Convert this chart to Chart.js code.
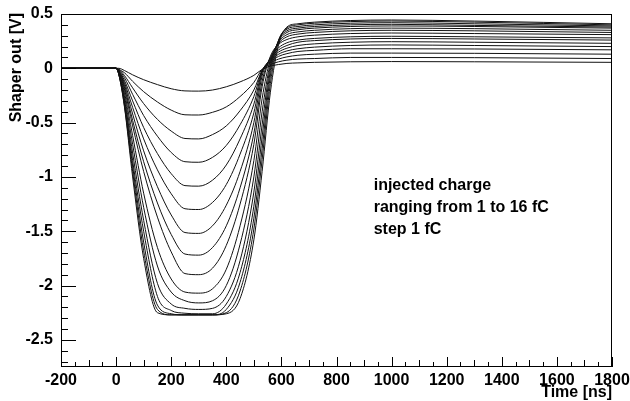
<!DOCTYPE html>
<html>
<head>
<meta charset="utf-8">
<script src="https://cdn.jsdelivr.net/npm/chart.js@4.4.0/dist/chart.umd.min.js"></script>
<style>
  html, body { margin: 0; padding: 0; background: #fff; }
  #wrap { width: 630px; height: 401px; }
</style>
</head>
<body>
<div id="wrap"><canvas id="c" width="630" height="401"></canvas></div>
<script>
// time samples [ns] shared by every curve
const times = [-200, 0, 10, 30, 60, 100, 150, 200, 250, 300, 350, 400, 450, 500, 530, 560, 590, 620, 660, 720, 850, 1000, 1300, 1800];

// shaper output [V] for injected charge 1..16 fC
const fC1  = [0, 0, 0, -0.02, -0.06, -0.105, -0.15, -0.188, -0.208, -0.21, -0.2, -0.17, -0.125, -0.065, -0.01, 0.02, 0.035, 0.045, 0.05, 0.055, 0.06, 0.062, 0.06, 0.055];
const fC2  = [0, 0, -0.01, -0.04, -0.12, -0.215, -0.31, -0.385, -0.428, -0.43, -0.405, -0.355, -0.26, -0.13, -0.01, 0.035, 0.06, 0.075, 0.085, 0.09, 0.1, 0.1, 0.098, 0.09];
const fC3  = [0, 0, -0.01, -0.065, -0.18, -0.325, -0.47, -0.578, -0.646, -0.65, -0.61, -0.53, -0.39, -0.2, -0.02, 0.05, 0.085, 0.105, 0.12, 0.13, 0.14, 0.14, 0.138, 0.13];
const fC4  = [0, 0, -0.015, -0.085, -0.24, -0.435, -0.625, -0.775, -0.86, -0.865, -0.82, -0.71, -0.52, -0.26, -0.02, 0.06, 0.11, 0.135, 0.155, 0.165, 0.18, 0.18, 0.178, 0.17];
const fC5  = [0, 0, -0.02, -0.11, -0.3, -0.545, -0.785, -0.97, -1.08, -1.085, -1.03, -0.89, -0.65, -0.33, -0.03, 0.07, 0.13, 0.16, 0.18, 0.195, 0.21, 0.215, 0.21, 0.2];
const fC6  = [0, 0, -0.025, -0.13, -0.36, -0.65, -0.935, -1.155, -1.293, -1.3, -1.235, -1.07, -0.79, -0.41, -0.04, 0.08, 0.15, 0.185, 0.21, 0.225, 0.24, 0.245, 0.24, 0.23];
const fC7  = [0, 0, -0.03, -0.15, -0.42, -0.76, -1.09, -1.35, -1.512, -1.52, -1.45, -1.26, -0.95, -0.5, -0.07, 0.09, 0.17, 0.21, 0.24, 0.255, 0.27, 0.275, 0.27, 0.26];
const fC8  = [0, 0, -0.03, -0.17, -0.48, -0.86, -1.24, -1.53, -1.71, -1.72, -1.65, -1.45, -1.1, -0.6, -0.12, 0.1, 0.19, 0.235, 0.26, 0.275, 0.29, 0.295, 0.29, 0.28];
const fC9  = [0, 0, -0.035, -0.19, -0.53, -0.95, -1.37, -1.69, -1.89, -1.9, -1.84, -1.63, -1.25, -0.7, -0.17, 0.11, 0.22, 0.265, 0.29, 0.305, 0.32, 0.325, 0.32, 0.31];
const fC10 = [0, 0, -0.04, -0.22, -0.62, -1.15, -1.65, -1.94, -2.06, -2.07, -2.03, -1.85, -1.45, -0.85, -0.28, 0.08, 0.23, 0.29, 0.315, 0.33, 0.345, 0.35, 0.345, 0.33];
const fC11 = [0, 0, -0.045, -0.25, -0.7, -1.28, -1.82, -2.06, -2.14, -2.16, -2.14, -2.0, -1.62, -1.0, -0.4, 0.05, 0.24, 0.31, 0.335, 0.35, 0.365, 0.37, 0.365, 0.35];
const fC12 = [0, 0, -0.05, -0.28, -0.78, -1.4, -1.98, -2.17, -2.21, -2.22, -2.21, -2.1, -1.77, -1.14, -0.52, 0.02, 0.25, 0.33, 0.355, 0.37, 0.385, 0.39, 0.385, 0.37];
const fC13 = [0, 0, -0.05, -0.3, -0.85, -1.5, -2.1, -2.23, -2.255, -2.26, -2.26, -2.17, -1.88, -1.27, -0.63, -0.02, 0.26, 0.345, 0.37, 0.385, 0.4, 0.405, 0.395, 0.38];
const fC14 = [0, 0, -0.055, -0.32, -0.9, -1.6, -2.18, -2.26, -2.27, -2.27, -2.27, -2.22, -1.97, -1.38, -0.74, -0.07, 0.26, 0.36, 0.385, 0.4, 0.415, 0.42, 0.41, 0.39];
const fC15 = [0, 0, -0.06, -0.34, -0.95, -1.68, -2.22, -2.27, -2.27, -2.27, -2.27, -2.25, -2.05, -1.48, -0.84, -0.14, 0.25, 0.37, 0.4, 0.415, 0.43, 0.435, 0.425, 0.4];
const fC16 = [0, 0, -0.06, -0.35, -1.0, -1.75, -2.25, -2.27, -2.27, -2.27, -2.27, -2.26, -2.12, -1.58, -0.95, -0.22, 0.22, 0.38, 0.41, 0.425, 0.44, 0.445, 0.435, 0.41];

const curves = [fC1, fC2, fC3, fC4, fC5, fC6, fC7, fC8, fC9, fC10, fC11, fC12, fC13, fC14, fC15, fC16];

// tick labels
const xTicks = [-200, 0, 200, 400, 600, 800, 1000, 1200, 1400, 1600, 1800];
const yTicks = [-2.5, -2, -1.5, -1, -0.5, 0, 0.5];

const notes = ['injected charge', 'ranging from 1 to 16 fC', 'step 1 fC'];

const FONT = 'Liberation Sans, Arial, Helvetica, sans-serif';

const rootFrame = {
  id: 'rootFrame',
  afterDraw(chart) {
    const {ctx, chartArea: a, scales} = chart;
    ctx.save();
    ctx.strokeStyle = '#000';
    ctx.lineWidth = 1;
    ctx.strokeRect(a.left + 0.5, a.top + 0.5, a.right - a.left - 1, a.bottom - a.top - 1);

    // inward ticks, ROOT style
    ctx.beginPath();
    for (let i = -27; i <= 5; i++) {
      const y = Math.round(scales.y.getPixelForValue(i / 10)) + 0.5;
      const len = i % 5 === 0 ? 15 : 7;
      ctx.moveTo(a.left, y); ctx.lineTo(a.left + len, y);
    }
    for (let t = -200; t <= 1800; t += 50) {
      const x = Math.round(scales.x.getPixelForValue(t)) + 0.5;
      const len = t % 200 === 0 ? 10 : (t % 100 === 0 ? 7 : 5);
      ctx.moveTo(x, a.bottom); ctx.lineTo(x, a.bottom - len);
    }
    ctx.stroke();

    ctx.fillStyle = '#000';
    ctx.font = 'bold 16px ' + FONT;

    // axis titles
    ctx.save();
    ctx.translate(17, a.top - 1);
    ctx.rotate(-Math.PI / 2);
    ctx.textAlign = 'right';
    ctx.textBaseline = 'middle';
    ctx.fillText('Shaper out [V]', 0, 0);
    ctx.restore();

    ctx.textAlign = 'right';
    ctx.textBaseline = 'alphabetic';
    ctx.fillText('Time [ns]', a.right, 397);

    // annotation
    ctx.textAlign = 'left';
    const nx = scales.x.getPixelForValue(935);
    notes.forEach((s, i) => ctx.fillText(s, nx, 190 + i * 22));
    ctx.restore();
  }
};

new Chart(document.getElementById('c'), {
  type: 'line',
  data: {
    datasets: curves.map((ys, i) => ({
      label: (i + 1) + ' fC',
      data: times.map((t, j) => ({x: t, y: ys[j]})),
      borderColor: '#111',
      borderWidth: 1,
      pointRadius: 0,
      fill: false,
      cubicInterpolationMode: 'monotone'
    }))
  },
  options: {
    responsive: false,
    animation: false,
    layout: {padding: {top: 14, right: 18, left: 0, bottom: 0}},
    plugins: {legend: {display: false}, tooltip: {enabled: false}},
    scales: {
      x: {
        type: 'linear', min: -200, max: 1800,
        grid: {display: false, drawTicks: false},
        border: {display: false},
        afterFit(s) { s.height = 34; s.paddingLeft = 0; s.paddingRight = 0; },
        afterBuildTicks(s) { s.ticks = xTicks.map(v => ({value: v})); },
        ticks: {color: '#000', padding: 4, maxRotation: 0, autoSkip: false,
                font: {family: FONT, size: 16, weight: 'bold'},
                callback: v => String(v)}
      },
      y: {
        type: 'linear', min: -2.75, max: 0.5,
        grid: {display: false, drawTicks: false},
        border: {display: false},
        afterFit(s) { s.width = 61; s.paddingTop = 0; s.paddingBottom = 0; },
        afterBuildTicks(s) { s.ticks = yTicks.map(v => ({value: v})); },
        ticks: {color: '#000', padding: 8, autoSkip: false,
                font: {family: FONT, size: 16, weight: 'bold'},
                callback: v => String(v)}
      }
    }
  },
  plugins: [rootFrame]
});
</script>
</body>
</html>
